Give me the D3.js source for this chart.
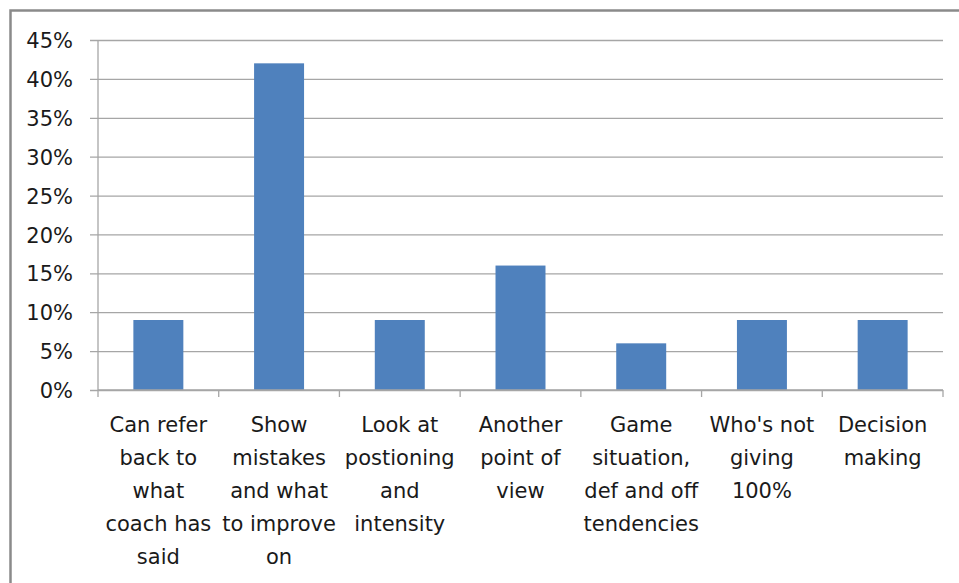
<!DOCTYPE html>
<html>
<head>
<meta charset="utf-8">
<script src="https://cdn.jsdelivr.net/npm/d3@7"></script>
<style>
  html, body { margin: 0; padding: 0; background: #fff; }
  svg { display: block; }
  text { font-family: "DejaVu Sans", sans-serif; fill: #1a1a1a; }
</style>
</head>
<body>
<svg id="chart" width="959" height="583"></svg>
<script>
const categories = [
  "Can refer\nback to\nwhat\ncoach has\nsaid",
  "Show\nmistakes\nand what\nto improve\non",
  "Look at\npostioning\nand\nintensity",
  "Another\npoint of\nview",
  "Game\nsituation,\ndef and off\ntendencies",
  "Who's not\ngiving\n100%",
  "Decision\nmaking"
];
const values = [0.09, 0.42, 0.09, 0.16, 0.06, 0.09, 0.09];
const yTicks = [0, 0.05, 0.10, 0.15, 0.20, 0.25, 0.30, 0.35, 0.40, 0.45];

const svg = d3.select("#chart");
const W = 959, H = 583;
const m = { left: 98, right: 16, top: 40, bottom: 193 };
const plotR = W - m.right;      // 943
const plotB = H - m.bottom;     // 390
const FONT = "'DejaVu Sans', sans-serif";

svg.append("rect").attr("x", 0).attr("y", 0).attr("width", W).attr("height", H).attr("fill", "#fff");
// outer frame
svg.append("rect")
  .attr("x", 10.5).attr("y", 10.5).attr("width", W + 20).attr("height", H + 20)
  .attr("fill", "none").attr("stroke", "#8a8a8a").attr("stroke-width", 2.5);

const x = d3.scaleBand().domain(categories).range([m.left, plotR]).paddingInner(0.586).paddingOuter(0.293);
const y = d3.scaleLinear().domain([0, 0.45]).range([plotB, m.top]);

// gridlines + y labels via axis
const yAxis = d3.axisLeft(y).tickValues(yTicks).tickFormat(d3.format(".0%"))
  .tickSize(-(plotR - m.left) - 8).tickPadding(17);
const gy = svg.append("g").attr("transform", `translate(${m.left - 8},0)`).call(yAxis);
gy.select(".domain").remove();
gy.selectAll(".tick line").attr("stroke", "#a6a6a6").attr("stroke-width", 1.3)
  .attr("x1", 0).attr("x2", plotR - m.left + 8);
gy.selectAll(".tick text").attr("font-size", 21).attr("x", -17).attr("dy", "0.36em")
  .style("font-family", FONT).attr("fill", "#1a1a1a");

// y axis line
svg.append("line").attr("x1", m.left).attr("x2", m.left).attr("y1", m.top).attr("y2", plotB)
  .attr("stroke", "#a6a6a6").attr("stroke-width", 1.3);

// bars
svg.append("g").selectAll("rect").data(values).join("rect")
  .attr("x", (d, i) => x(categories[i]))
  .attr("y", d => y(d))
  .attr("width", x.bandwidth())
  .attr("height", d => plotB - y(d))
  .attr("fill", "#4f81bd");

// x axis
const step = x.step();
const bounds = d3.range(categories.length + 1).map(i => m.left + i * step);
svg.append("line").attr("x1", m.left).attr("x2", plotR).attr("y1", plotB).attr("y2", plotB)
  .attr("stroke", "#a6a6a6").attr("stroke-width", 1.3);
svg.append("g").selectAll("line").data(bounds).join("line")
  .attr("x1", d => d).attr("x2", d => d).attr("y1", plotB).attr("y2", plotB + 7)
  .attr("stroke", "#a6a6a6").attr("stroke-width", 1.3);

// category labels
const lab = svg.append("g").selectAll("text").data(categories).join("text")
  .attr("text-anchor", "middle").attr("font-size", 21)
  .attr("x", d => x(d) + x.bandwidth() / 2).attr("y", 432);
lab.each(function(d) {
  const t = d3.select(this);
  const cx = +t.attr("x");
  d.split("\n").forEach((line, i) => {
    t.append("tspan").attr("x", cx).attr("y", 432 + i * 33).text(line);
  });
});
</script>
</body>
</html>
